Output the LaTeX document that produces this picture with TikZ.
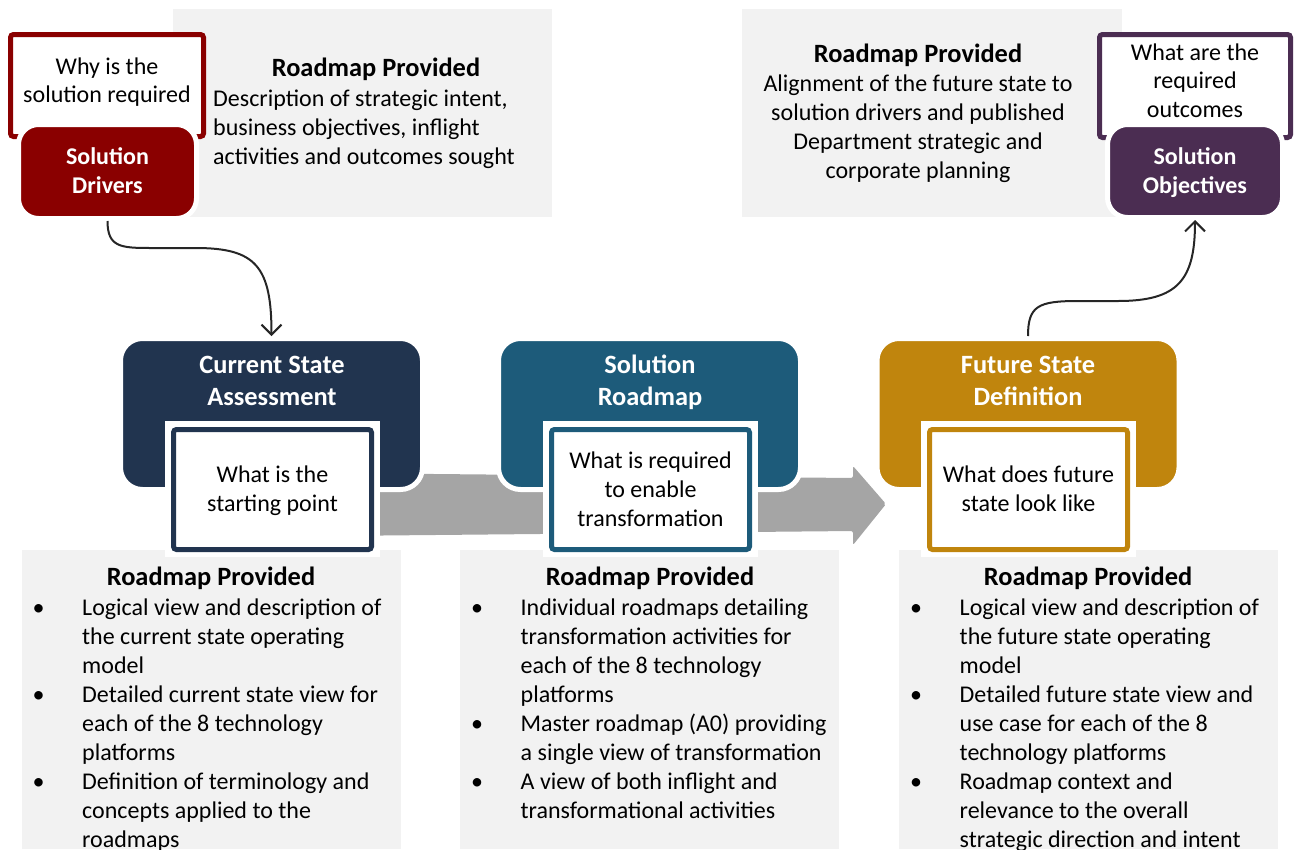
\documentclass[tikz,border=0pt]{standalone}
\usepackage{fontspec}
\setmainfont{Carlito}
\usetikzlibrary{arrows.meta}
\definecolor{drvred}{HTML}{8A0000}
\definecolor{objpur}{HTML}{4B2D52}
\definecolor{csanavy}{HTML}{21344F}
\definecolor{srteal}{HTML}{1D5B7A}
\definecolor{fsdgold}{HTML}{C0850D}
\definecolor{arrowgrey}{HTML}{A5A5A5}
\definecolor{panelgrey}{HTML}{F2F2F2}
\definecolor{connink}{HTML}{262626}
\newcommand{\mystack}[1]{\begin{tabular}[t]{@{}c@{}}#1\end{tabular}}
\newcommand{\myleft}[1]{\begin{tabular}[t]{@{}l@{}}#1\end{tabular}}
\newcommand{\mybul}[1]{\begin{tabular}[t]{@{}p{43.5pt}@{}l@{}}#1\end{tabular}}
\newcommand{\bu}{\makebox[0pt]{\textbullet}}
\begin{document}
\begin{tikzpicture}[x=1pt,y=-1pt,
  panel/.style={fill=panelgrey, draw=none, inner sep=0pt},
  stepbox/.style={rounded corners=22pt, draw=white, line width=5pt, inner sep=0pt},
  qbox/.style={fill=white, line width=5pt, rounded corners=3pt, inner sep=0pt},
  margin/.style={fill=white, draw=none, inner sep=0pt},
  body/.style={font=\fontsize{24}{29}\selectfont, inner sep=0pt, anchor=base},
  head/.style={font=\fontsize{26.4}{32}\selectfont\bfseries, text=white, inner sep=0pt, anchor=base},
  smallhead/.style={font=\fontsize{24}{29}\selectfont\bfseries, text=white, inner sep=0pt, anchor=base},
  panelhead/.style={font=\fontsize{26.4}{32}\selectfont\bfseries, inner sep=0pt, anchor=base},
  conn/.style={draw=connink, line width=2pt, -{Straight Barb[length=10pt,width=20pt]}}
]
\useasboundingbox (0,0) rectangle (1295,849);

% grey panels
\node[panel, minimum width=379pt, minimum height=208pt] (tlpanel) at (362.5,113) {};
\node[panel, minimum width=380pt, minimum height=208pt] (trpanel) at (931.5,113) {};
\node[panel, minimum width=379pt, minimum height=299pt] (blpanel) at (211.5,699.5) {};
\node[panel, minimum width=379pt, minimum height=299pt] (bmpanel) at (649.5,699.5) {};
\node[panel, minimum width=379pt, minimum height=299pt] (brpanel) at (1088.5,699.5) {};

% big grey block arrow
\fill[arrowgrey, rounded corners=2pt] (330,473) -- (853,478) -- (853,466) -- (886,504)
  -- (853,545) -- (853,531) -- (330,536) -- cycle;

% main step boxes
\node[stepbox, fill=csanavy, minimum width=302pt, minimum height=151pt] (csa) at (271.5,414) {};
\node[stepbox, fill=srteal, minimum width=302pt, minimum height=151pt] (sr) at (649.5,414) {};
\node[stepbox, fill=fsdgold, minimum width=302pt, minimum height=151pt] (fsd) at (1028,414) {};
\node[head] (csah) at (272,373) {\mystack{Current State\\Assessment}};
\node[head] (srh) at (650,373) {\mystack{Solution\\Roadmap}};
\node[head] (fsdh) at (1028,373) {\mystack{Future State\\Definition}};

% question boxes of the steps
\node[margin, minimum width=215pt, minimum height=136pt] (csam) at (272.5,489) {};
\node[qbox, draw=csanavy, minimum width=198pt, minimum height=120pt] (csaq) at (272.5,489.5) {};
\node[body] (csaqt) at (272.5,482) {\mystack{What is the\\starting point}};
\node[margin, minimum width=215pt, minimum height=136pt] (srm) at (650.5,489) {};
\node[qbox, draw=srteal, minimum width=198pt, minimum height=120pt] (srq) at (650.5,489.5) {};
\node[body] (srqt) at (650.5,468) {\mystack{What is required\\to enable\\transformation}};
\node[margin, minimum width=215pt, minimum height=136pt] (fsdm) at (1028.5,489) {};
\node[qbox, draw=fsdgold, minimum width=198pt, minimum height=120pt] (fsdq) at (1028.5,489.5) {};
\node[body] (fsdqt) at (1028.5,482) {\mystack{What does future\\state look like}};

% drivers
\node[qbox, draw=drvred, minimum width=193pt, minimum height=102pt] (drvq) at (107,85.5) {};
\node[body, font=\fontsize{24}{28}\selectfont] (drvqt) at (107,74) {\mystack{Why is the\\solution required}};
\node[stepbox, fill=drvred, rounded corners=20pt, minimum width=178pt, minimum height=94pt] (drv) at (107.5,171.5) {};
\node[smallhead] (drvt) at (107.5,164.5) {\mystack{Solution\\Drivers}};

% objectives
\node[qbox, draw=objpur, minimum width=191pt, minimum height=103pt] (objq) at (1195,86) {};
\node[body, font=\fontsize{24}{28.5}\selectfont] (objqt) at (1195,60) {\mystack{What are the\\required\\outcomes}};
\node[stepbox, fill=objpur, rounded corners=20pt, minimum width=175pt, minimum height=93pt] (obj) at (1195,171) {};
\node[smallhead] (objt) at (1195,164.5) {\mystack{Solution\\Objectives}};

% top panel texts
\node[panelhead] (tlh) at (376,76) {Roadmap Provided};
\node[body, anchor=base west] (tlt) at (213,106) {\myleft{Description of strategic intent,\\business objectives, inflight\\activities and outcomes sought}};
\node[panelhead] (trh) at (918,62) {Roadmap Provided};
\node[body] (trt) at (918,91) {\mystack{Alignment of the future state to\\solution drivers and published\\Department strategic and\\corporate planning}};

% bottom panel texts
\node[panelhead] (blh) at (211,585) {Roadmap Provided};
\node[body, anchor=base west] (blt) at (38.5,615) {\mybul{\bu & Logical view and description of\\
 & the current state operating\\
 & model\\
\bu & Detailed current state view for\\
 & each of the 8 technology\\
 & platforms\\
\bu & Definition of terminology and\\
 & concepts applied to the\\
 & roadmaps}};
\node[panelhead] (bmh) at (650,585) {Roadmap Provided};
\node[body, anchor=base west] (bmt) at (477,615) {\mybul{\bu & Individual roadmaps detailing\\
 & transformation activities for\\
 & each of the 8 technology\\
 & platforms\\
\bu & Master roadmap (A0) providing\\
 & a single view of transformation\\
\bu & A view of both inflight and\\
 & transformational activities}};
\node[panelhead] (brh) at (1088,585) {Roadmap Provided};
\node[body, anchor=base west] (brt) at (916,615) {\mybul{\bu & Logical view and description of\\
 & the future state operating\\
 & model\\
\bu & Detailed future state view and\\
 & use case for each of the 8\\
 & technology platforms\\
\bu & Roadmap context and\\
 & relevance to the overall\\
 & strategic direction and intent}};

% connectors
\draw[conn] (drv.south) .. controls +(0,26) and +(-30,0) .. ++(43,27) -- ++(45,0)
  .. controls +(60,0) and +(0,-70) .. (csa.north);
\draw[conn] (fsd.north) .. controls +(0,-30) and +(-40,0) .. ++(50,-35) -- ++(40,0)
  .. controls +(60,0) and +(0,60) .. (obj.south);
\end{tikzpicture}
\end{document}
